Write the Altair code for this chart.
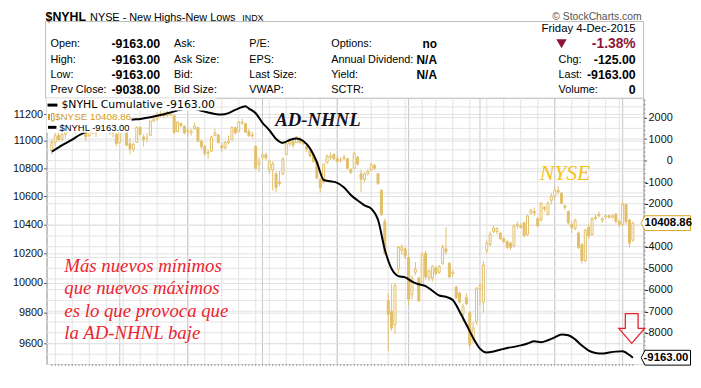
import altair as alt
import pandas as pd

# ---------------- data ----------------
opens = [10930,10990,11040,11010,11050,11080,11110,11080,11090,11160,
         11120,11040,11090,11060,11100,11125,11140,11080,11100,11050,
         10990,11070,11080,10980,10940,10990,11100,11030,11020,11040,
         11150,11165,11205,11195,11190,11210,11190,11070,11130,11110,
         11070,11060,11090,11100,11000,10960,10910,10925,11040,11045,
         10965,10950,10990,11010,11100,11070,11140,11130,11070,11045,
         10960,10830,10880,10900,10790,10790,10760,10700,10760,10900,
         10980,11000,10990,11020,11000,10960,10930,10900,10850,10720,
         10700,10840,10880,10900,10870,10860,10870,10870,10790,10800,
         10880,10760,10720,10760,10790,10820,10760,10640,10420,9880,
         9810,9720,10090,10220,10230,10170,9920,10070,10030,9990,
         10200,10030,10030,10100,10070,10130,10230,10130,10060,9970,
         9930,9790,9900,9800,9620,9740,9960,9870,10220,10260,
         10350,10350,10340,10300,10280,10270,10250,10390,10390,10410,
         10330,10480,10490,10440,10430,10520,10470,10570,10600,10640,
         10620,10530,10490,10400,10370,10340,10260,10150,10380,10330,
         10440,10470,10430,10450,10460,10450,10470,10420,10400,10540,
         10430,10290]
highs = [11010,11060,11070,11060,11090,11120,11140,11110,11170,11180,
         11130,11090,11110,11110,11140,11140,11170,11120,11110,11060,
         11080,11100,11090,11020,10990,11110,11110,11050,11060,11150,
         11175,11215,11225,11220,11230,11220,11195,11150,11140,11115,
         11100,11090,11140,11105,11010,10970,10935,11040,11090,11050,
         10990,11000,11040,11110,11105,11150,11165,11135,11090,11070,
         10970,10880,10910,10915,10860,10850,10770,10780,10880,10990,
         11010,11015,11035,11030,11010,10970,10940,10905,10860,10730,
         10835,10900,10915,10910,10890,10880,10900,10875,10800,10920,
         10890,10790,10770,10790,10840,10830,10765,10650,10440,9930,
         9990,10000,10250,10260,10240,10180,10050,10140,10040,10210,
         10220,10090,10120,10110,10120,10260,10380,10140,10090,9980,
         9940,9860,9930,9810,9740,9970,9990,10150,10290,10350,
         10390,10380,10350,10310,10290,10280,10400,10420,10410,10420,
         10470,10510,10520,10450,10560,10530,10560,10620,10660,10670,
         10630,10540,10500,10420,10440,10350,10270,10370,10400,10450,
         10470,10490,10450,10470,10470,10470,10480,10440,10560,10550,
         10440,10420]
lows = [10900,10960,11000,11000,11020,11060,11070,11050,11090,11130,
        11000,11030,11050,11030,11080,11100,11070,11050,11030,10960,
        10980,11060,10960,10900,10920,10990,11040,10960,10990,11040,
        11140,11150,11180,11170,11180,11185,11050,11065,11100,11050,
        11040,11040,11085,10990,10940,10890,10870,10920,11035,10980,
        10920,10940,10975,11005,11050,11065,11120,11060,11030,11020,
        10790,10775,10860,10860,10760,10640,10630,10670,10750,10895,
        10960,10950,10985,10980,10970,10920,10880,10840,10720,10630,
        10690,10835,10860,10860,10840,10840,10860,10790,10760,10795,
        10820,10630,10700,10750,10780,10790,10680,10460,10190,9550,
        9680,9660,10060,10190,10160,9850,9890,10050,9870,9980,
        10020,10010,10010,10050,10060,10120,10190,10030,10040,9890,
        9860,9740,9850,9560,9600,9720,9850,9800,10200,10250,
        10340,10330,10290,10270,10230,10220,10240,10370,10370,10310,
        10320,10470,10460,10380,10420,10490,10460,10540,10590,10610,
        10540,10500,10400,10340,10360,10230,10130,10140,10300,10320,
        10430,10450,10410,10440,10440,10440,10410,10380,10390,10400,
        10240,10280]
closes = [10990,11040,11010,11050,11080,11110,11080,11090,11160,11150,
          11030,11085,11060,11100,11125,11115,11080,11110,11060,10980,
          11070,11085,10970,10940,10975,11100,11050,11010,11020,11150,
          11165,11200,11195,11190,11215,11195,11065,11140,11115,11060,
          11080,11075,11110,11000,10960,10910,10915,11030,11060,10990,
          10950,10990,11000,11100,11060,11140,11135,11065,11040,11040,
          10800,10845,10900,10875,10850,10830,10660,10690,10870,10980,
          11000,10970,11030,10990,10980,10940,10890,10850,10730,10660,
          10830,10890,10890,10870,10850,10860,10880,10800,10770,10910,
          10830,10720,10760,10780,10830,10800,10690,10470,10200,9790,
          9700,9980,10240,10245,10180,9890,10030,10090,9880,10190,
          10040,10080,10110,10060,10110,10240,10210,10040,10070,9900,
          9870,9840,9860,9590,9700,9960,9980,10120,10270,10330,
          10375,10370,10300,10280,10240,10240,10390,10400,10380,10320,
          10460,10500,10480,10390,10550,10510,10550,10600,10640,10630,
          10550,10520,10410,10380,10430,10240,10150,10360,10320,10440,
          10450,10460,10440,10460,10450,10460,10420,10400,10540,10420,
          10270,10408.86]

line_idx = [0,2,4,6,8,10,12,14,16,18,20,22,24,26,28,30,32,34,36,38,40,42,44,46,48,
            50,52,54,56,57,58,60,62,64,66,68,70,72,74,76,78,80,82,84,86,88,90,92,94,
            96,98,100,102,104,106,108,110,112,114,116,118,120,122,124,126,128,130,
            132,134,136,138,140,142,144,146,148,150,152,154,156,158,160,162,164,166,
            168,170,171]
line_val = [420,620,800,980,1180,1340,1480,1590,1690,1770,1830,1880,1910,1940,1990,
            2050,2120,2200,2290,2370,2420,2400,2320,2240,2170,2140,2210,2360,2490,2530,
            2420,2200,1760,1420,1010,830,960,1030,910,560,-70,-900,-960,-1030,-1250,
            -1600,-1850,-2080,-2230,-2750,-4130,-5030,-5370,-5430,-5620,-5750,-5830,
            -6050,-6270,-6330,-6480,-7010,-7620,-8240,-8740,-8920,-8870,-8790,-8710,
            -8660,-8590,-8500,-8400,-8440,-8350,-8220,-8080,-8120,-8310,-8600,-8830,
            -8940,-8970,-8920,-8880,-8860,-9038,-9163]

month_ticks = [20, 40, 62, 84, 105, 126, 148, 168]
month_names = ["May", "Jun", "Jul", "Aug", "Sep", "Oct", "Nov", "Dec"]
week_ticks = [1,6,11,16,21,26,31,36,40,45,50,55,60,64,69,74,79,84,89,94,99,104,
              109,113,118,123,128,133,138,143,148,153,158,163,167]
left_ticks = [9600, 9800, 10000, 10200, 10400, 10600, 10800, 11000, 11200]
right_ticks = [-8000,-7000,-6000,-5000,-4000,-2000,-1000,0,1000,2000]
right_grid = [-9000,-8500,-8000,-7500,-7000,-6500,-6000,-5500,-5000,-4500,-4000,
              -3500,-3000,-2500,-2000,-1500,-1000,-500,0,500,1000,1500,2000,2500]
right_minor = list(range(-9400, 2901, 200))

last_nyse = closes[-1]
last_nyhl = line_val[-1]

# ---------------- style ----------------
GOLD = "#E2BF69"
GOLD_TXT = "#D39B1D"
GRID = "#E3E3E3"
MGRID = "#C6C6C6"
AXC = "#9A9A9A"
SANS = "Liberation Sans"
SERIF = "Liberation Serif"
W, H = 604, 269

xs = alt.Scale(domain=[-0.1, 172.7], nice=False, zero=False)
yL = alt.Scale(type="log", domain=[9467, 11322], nice=False)
yR = alt.Scale(domain=[-9458, 2904], nice=False, zero=False)

df = pd.DataFrame({"i": list(range(len(closes))), "o": opens, "h": highs, "l": lows, "c": closes})
ldf = pd.DataFrame({"i": line_idx, "v": line_val})
one = pd.DataFrame({"a": [0]})

month_expr = "[" + ",".join("'%s'" % m for m in month_names) + "][indexof([" + \
    ",".join(str(t) for t in month_ticks) + "], datum.value)]"

x_axis = alt.Axis(values=month_ticks, labelExpr=month_expr, tickSize=4, labelPadding=1,
                  grid=False, domainColor=AXC, tickColor=AXC, labelFontSize=11,
                  labelFont=SANS, labelColor="#111", title=None, labelFlush=False)
left_axis = alt.Axis(orient="left", values=left_ticks, format="d", tickSize=3,
                     labelPadding=1, grid=True, gridColor=GRID, domainColor=AXC,
                     tickColor="#555", labelFontSize=11, labelFont=SANS,
                     labelColor="#111", title=None)
right_axis = alt.Axis(orient="right", values=right_ticks, labelExpr="'' + datum.value",
                      tickSize=3, labelPadding=26, labelAlign="right", grid=False,
                      domainColor=AXC, tickColor="#555", labelFontSize=11,
                      labelFont=SANS, labelColor="#111", title=None)


def txt(text, x, y, size=11, weight="normal", color="#000", align="left",
        font=SANS, style="normal", baseline="middle"):
    return alt.Chart(one).mark_text(
        text=text, align=align, baseline=baseline, fontSize=size, fontWeight=weight,
        color=color, font=font, fontStyle=style
    ).encode(x=alt.value(x), y=alt.value(y))


def box(x, x2, y, y2, fill="white", stroke=None, sw=1):
    kw = dict(fill=fill)
    if stroke:
        kw.update(stroke=stroke, strokeWidth=sw)
    return alt.Chart(one).mark_rect(**kw).encode(
        x=alt.value(x), x2=alt.value(x2), y=alt.value(y), y2=alt.value(y2))


layers = []

# header box
layers.append(box(-1, 604, -77.5, 0, fill="white", stroke="#BDBDBD"))

# vertical grid
layers.append(alt.Chart(pd.DataFrame({"i": week_ticks})).mark_rule(color=GRID, strokeWidth=1)
              .encode(x=alt.X("i:Q", scale=xs, axis=None)))
layers.append(alt.Chart(pd.DataFrame({"i": month_ticks})).mark_rule(color=MGRID, strokeWidth=1)
              .encode(x=alt.X("i:Q", scale=xs, axis=None)))
# horizontal grid for right axis
layers.append(alt.Chart(pd.DataFrame({"v": right_grid})).mark_rule(color=GRID, strokeWidth=1)
              .encode(y=alt.Y("v:Q", scale=yR, axis=None)))

# candles: wicks
layers.append(alt.Chart(df).mark_rule(color=GOLD, strokeWidth=1).encode(
    x=alt.X("i:Q", scale=xs, axis=x_axis),
    y=alt.Y("l:Q", scale=yL, axis=left_axis),
    y2="h:Q"))
# candles: bodies
layers.append(alt.Chart(df).mark_bar(width=2, stroke=GOLD, strokeWidth=1).encode(
    x=alt.X("i:Q", scale=xs, axis=None),
    y=alt.Y("o:Q", scale=yL, axis=None),
    y2="c:Q",
    fill=alt.condition("datum.c < datum.o", alt.value(GOLD), alt.value("white"))))

# cumulative line
layers.append(alt.Chart(ldf).mark_line(color="#000", strokeWidth=2, interpolate="monotone").encode(
    x=alt.X("i:Q", scale=xs, axis=None),
    y=alt.Y("v:Q", scale=yR, axis=right_axis)))

# daily minor ticks on x axis
layers.append(alt.Chart(df).mark_rule(color=AXC, strokeWidth=1).encode(
    x=alt.X("i:Q", scale=xs, axis=None), y=alt.value(H), y2=alt.value(H + 2)))
# minor ticks on right axis
layers.append(alt.Chart(pd.DataFrame({"v": right_minor})).mark_rule(color=AXC, strokeWidth=1).encode(
    y=alt.Y("v:Q", scale=yR, axis=None), x=alt.value(W), x2=alt.value(W + 2)))

# legend
layers.append(box(0, 172, 0, 12.5))
layers.append(box(0, 86, 12.5, 35))
layers.append(alt.Chart(one).mark_rule(color="#000", strokeWidth=3).encode(
    x=alt.value(1), x2=alt.value(11), y=alt.value(7)))
layers.append(alt.Chart(one).mark_rule(color="#000", strokeWidth=3).encode(
    x=alt.value(1.5), x2=alt.value(10), y=alt.value(29.5)))
layers.append(box(1.5, 3.5, 16, 22, fill=GOLD_TXT))
layers.append(box(5, 7.5, 15.5, 23, fill="white", stroke=GOLD_TXT))
layers.append(txt("$NYHL Cumulative -9163.00", 15, 6.5, size=11, font="DejaVu Sans"))
layers.append(txt("$NYSE 10408.86", 8.5, 19.2, size=10, color=GOLD_TXT))
layers.append(txt("$NYHL -9163.00", 13, 29.8, size=9.6))

# annotations
layers.append(txt("AD-NHNL", 274.5, 22, size=19, weight="bold", style="italic",
                  font=SERIF, color="#111122", align="center"))
layers.append(txt("NYSE", 524.5, 75.5, size=22, style="italic", font=SERIF,
                  color="#F4C21C", align="center"))
layers.append(alt.Chart(one).mark_text(
    text=["Más nuevos mínimos", "que nuevos máximos", "es lo que provoca que",
          "la AD-NHNL baje"],
    align="left", baseline="alphabetic", fontSize=19, fontStyle="italic", font=SERIF,
    color="#EC2430", lineHeight=22.3).encode(x=alt.value(18), y=alt.value(176.3)))
layers.append(alt.Chart(one).mark_point(
    shape="M-0.43,-1L0.43,-1L0.43,0L0.87,0L0,1L-0.87,0L-0.43,0Z", filled=False,
    stroke="#E8202A", strokeWidth=1.3, size=900, opacity=1).encode(
    x=alt.value(592), y=alt.value(233)))

# right value tags
tag = "M-1,0L-0.84,-0.3L1,-0.3L1,0.3L-0.84,0.3Z"
layers.append(alt.Chart(pd.DataFrame({"v": [last_nyse]})).mark_point(
    shape=tag, filled=True, fill="white", stroke="#D9A520", strokeWidth=1, size=2500,
    opacity=1).encode(x=alt.value(626.5), y=alt.Y("v:Q", scale=yL, axis=None)))
layers.append(alt.Chart(pd.DataFrame({"v": [last_nyse], "t": ["10408.86"]})).mark_text(
    align="left", baseline="middle", fontSize=11.5, fontWeight="bold", font=SANS,
    color="#000").encode(x=alt.value(605), y=alt.Y("v:Q", scale=yL, axis=None), text="t:N"))
layers.append(alt.Chart(pd.DataFrame({"v": [last_nyhl]})).mark_point(
    shape=tag, filled=True, fill="white", stroke="#000", strokeWidth=1, size=2500,
    opacity=1).encode(x=alt.value(626.5), y=alt.Y("v:Q", scale=yR, axis=None)))
layers.append(alt.Chart(pd.DataFrame({"v": [last_nyhl], "t": ["-9163.00"]})).mark_text(
    align="left", baseline="middle", fontSize=11.5, fontWeight="bold", font=SANS,
    color="#000").encode(x=alt.value(604), y=alt.Y("v:Q", scale=yR, axis=None), text="t:N"))

# header texts (top line)
layers.append(txt("$NYHL", -1, -78.5, size=12.5, weight="bold", baseline="alphabetic"))
layers.append(txt("NYSE - New Highs-New Lows", 44, -78.5, size=11, baseline="alphabetic"))
layers.append(txt("INDX", 198, -78.5, size=9, baseline="alphabetic"))
layers.append(txt("© StockCharts.com", 602, -79, size=10.5, color="#555", align="right",
                  baseline="alphabetic"))
layers.append(txt("Friday  4-Dec-2015", 596, -70, size=11.5, align="right"))

row_y = [-54.5, -39, -23.5, -8]
col1_lab = ["Open:", "High:", "Low:", "Prev Close:"]
col1_val = ["-9163.00", "-9163.00", "-9163.00", "-9038.00"]
col2_lab = ["Ask:", "Ask Size:", "Bid:", "Bid Size:"]
col3_lab = ["P/E:", "EPS:", "Last Size:", "VWAP:"]
col4_lab = ["Options:", "Annual Dividend:", "Yield:", "SCTR:"]
col4_val = ["no", "N/A", "N/A", ""]
col5_lab = ["", "Chg:", "Last:", "Volume:"]
col5_val = ["-1.38%", "-125.00", "-9163.00", "0"]

for k, yy in enumerate(row_y):
    layers.append(txt(col1_lab[k], 4, yy, size=11))
    layers.append(txt(col1_val[k], 115, yy, size=12.5, weight="bold", align="right"))
    layers.append(txt(col2_lab[k], 129, yy, size=11))
    layers.append(txt(col3_lab[k], 205, yy, size=11))
    layers.append(txt(col4_lab[k], 288, yy, size=11))
    if col4_val[k]:
        layers.append(txt(col4_val[k], 395, yy, size=12, weight="bold", align="right"))
    if col5_lab[k]:
        layers.append(txt(col5_lab[k], 518, yy, size=11))
    if k == 0:
        layers.append(txt(col5_val[k], 596, yy, size=14, weight="bold", align="right",
                          color="#8E1538"))
    else:
        layers.append(txt(col5_val[k], 596, yy, size=12.5, weight="bold", align="right"))

layers.append(alt.Chart(one).mark_point(shape="triangle-down", filled=True, color="#8E1538",
                                        size=110, opacity=1).encode(
    x=alt.value(521), y=alt.value(-55)))

chart = alt.layer(*layers).resolve_scale(y="independent").properties(
    width=W, height=H,
    autosize=alt.AutoSizeParams(type="none"),
    padding={"left": 39, "top": 89, "right": 50, "bottom": 22},
).configure_view(stroke="#A8A8A8", strokeWidth=1).configure(background="white")

chart.save("out.html", embed_options={"renderer": "svg", "actions": False})
